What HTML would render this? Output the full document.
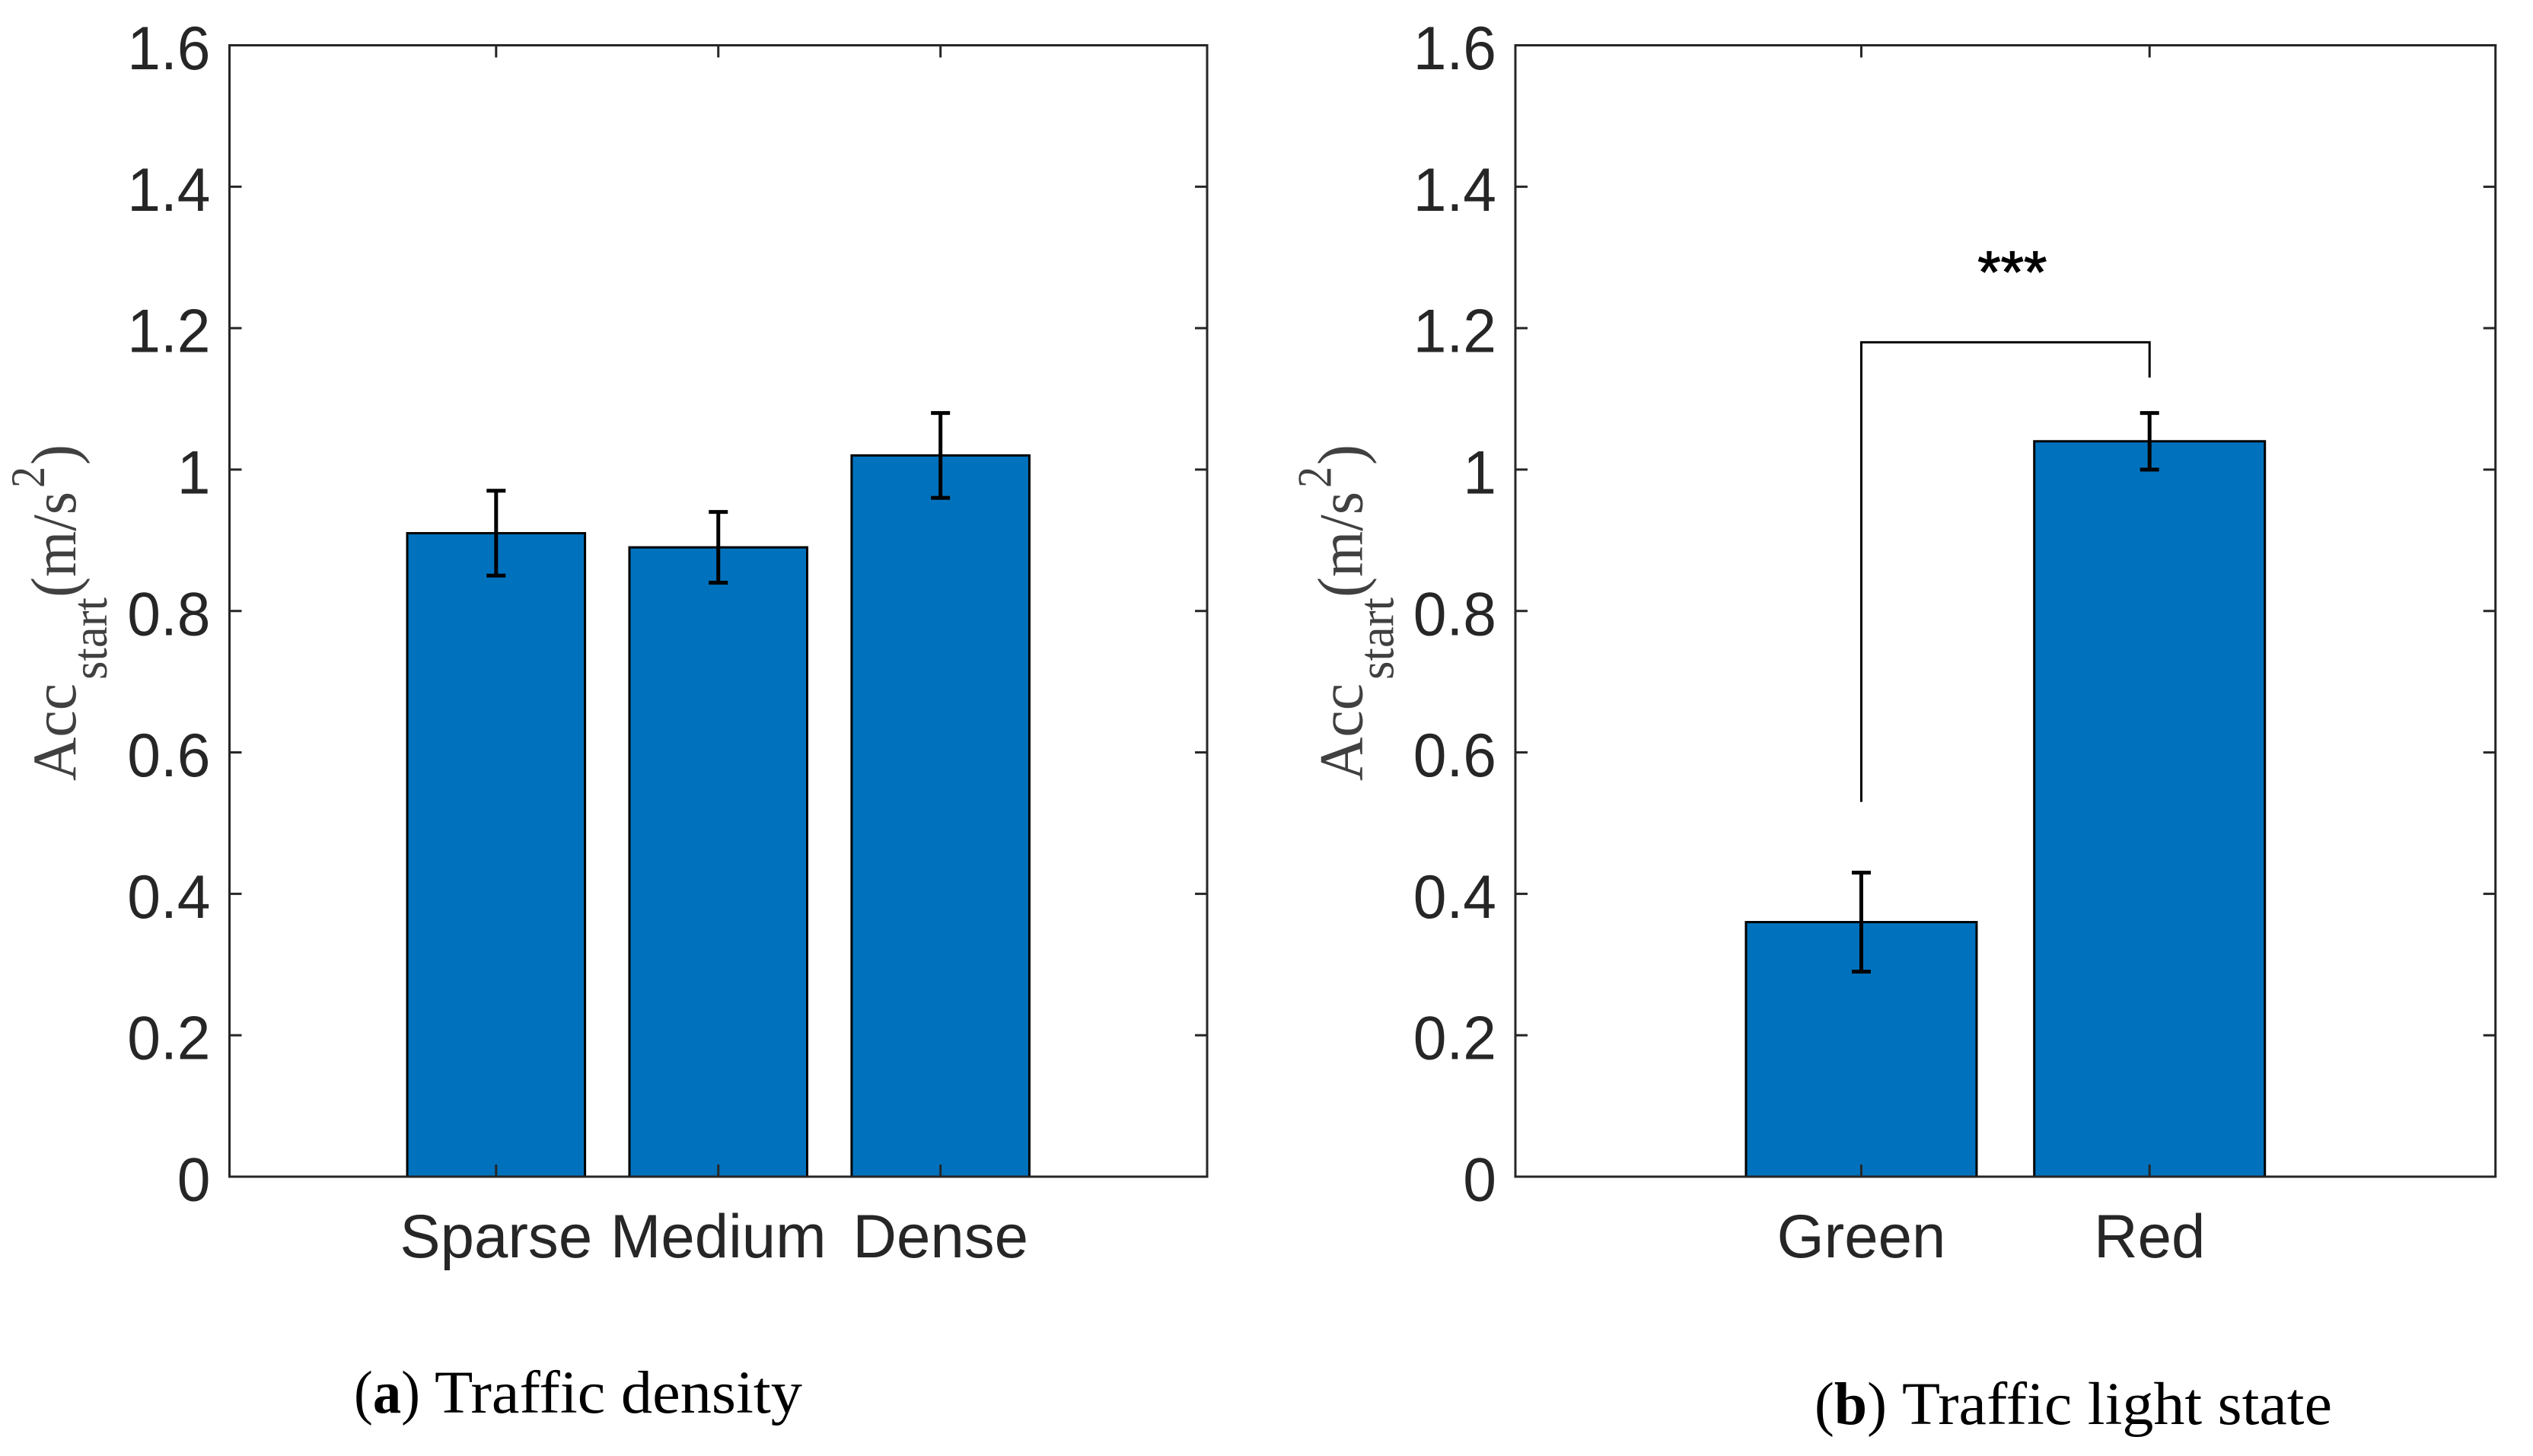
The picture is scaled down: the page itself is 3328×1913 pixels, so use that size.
<!DOCTYPE html>
<html lang="en">
<head>
<meta charset="utf-8">
<title>Acc start by traffic density and traffic light state</title>
<style>
html,body{margin:0;padding:0;background:#fff;width:3328px;height:1913px;overflow:hidden}
svg{display:block}
.tick-label{font-family:"Liberation Sans",Arial,sans-serif;font-size:81px;fill:#262626}
.y-title{font-family:"Liberation Serif","Times New Roman",serif;fill:#404040}
.caption{font-family:"Liberation Serif","Times New Roman",serif;font-size:79px;fill:#000}
</style>
</head>
<body>
<svg id="figure" xmlns="http://www.w3.org/2000/svg" width="3328" height="1913" viewBox="0 0 3328 1913">
  <rect x="0" y="0" width="3328" height="1913" fill="#fff"/>
  <g id="panel-a"></g>
  <g id="panel-b"></g>

  <g transform="translate(99,1026) rotate(-90)">
    <text class="y-title" x="0" y="0" font-size="82" textLength="128" lengthAdjust="spacingAndGlyphs">Acc</text>
    <text class="y-title" x="133" y="41" font-size="66" textLength="108" lengthAdjust="spacingAndGlyphs">start</text>
    <text class="y-title" x="241" y="1" font-size="86" textLength="27" lengthAdjust="spacingAndGlyphs">(</text>
    <text class="y-title" x="268" y="0" font-size="82" textLength="112" lengthAdjust="spacingAndGlyphs">m/s</text>
    <text class="y-title" x="385" y="-41" font-size="64" textLength="28" lengthAdjust="spacingAndGlyphs">2</text>
    <text class="y-title" x="415" y="1" font-size="86" textLength="27" lengthAdjust="spacingAndGlyphs">)</text>
  </g>
  <g transform="translate(1789.5,1026) rotate(-90)">
    <text class="y-title" x="0" y="0" font-size="82" textLength="128" lengthAdjust="spacingAndGlyphs">Acc</text>
    <text class="y-title" x="133" y="41" font-size="66" textLength="108" lengthAdjust="spacingAndGlyphs">start</text>
    <text class="y-title" x="241" y="1" font-size="86" textLength="27" lengthAdjust="spacingAndGlyphs">(</text>
    <text class="y-title" x="268" y="0" font-size="82" textLength="112" lengthAdjust="spacingAndGlyphs">m/s</text>
    <text class="y-title" x="385" y="-41" font-size="64" textLength="28" lengthAdjust="spacingAndGlyphs">2</text>
    <text class="y-title" x="415" y="1" font-size="86" textLength="27" lengthAdjust="spacingAndGlyphs">)</text>
  </g>

  <g>
    <text class="caption" x="465" y="1856" textLength="87" lengthAdjust="spacingAndGlyphs">(<tspan font-weight="bold">a</tspan>)</text>
    <text class="caption" x="571" y="1856" textLength="483" lengthAdjust="spacingAndGlyphs">Traffic density</text>
  </g>
  <g>
    <text class="caption" x="2384" y="1871" textLength="95" lengthAdjust="spacingAndGlyphs">(<tspan font-weight="bold">b</tspan>)</text>
    <text class="caption" x="2499" y="1871" textLength="565" lengthAdjust="spacingAndGlyphs">Traffic light state</text>
  </g>
</svg>
<script>
var yTickValues = [0, 0.2, 0.4, 0.6, 0.8, 1, 1.2, 1.4, 1.6];
var yTickLabels = ['0', '0.2', '0.4', '0.6', '0.8', '1', '1.2', '1.4', '1.6'];

var densityCategories = ['Sparse', 'Medium', 'Dense'];
var densityValues = [0.91, 0.89, 1.02];
var densityUpper = [0.97, 0.94, 1.08];
var densityLower = [0.85, 0.84, 0.96];

var lightCategories = ['Green', 'Red'];
var lightValues = [0.36, 1.04];
var lightUpper = [0.43, 1.08];
var lightLower = [0.29, 1.00];

var bracketTopValue = 1.18;
var bracketLeftEndValue = 0.53;
var bracketRightEndValue = 1.13;
var significanceLabel = '***';

var SVGNS = 'http://www.w3.org/2000/svg';
var plotTop = 59.5, plotBottom = 1546, yMax = 1.6;
var barWidthUnits = 0.8, xPad = 1.2;

function yScale(v) {
  return plotBottom - (v / yMax) * (plotBottom - plotTop);
}
function makeXScale(left, right, n) {
  var lo = 1 - xPad, hi = n + xPad;
  return function (v) { return left + (v - lo) / (hi - lo) * (right - left); };
}
function line(parent, x1, y1, x2, y2, color, width) {
  var el = document.createElementNS(SVGNS, 'line');
  el.setAttribute('x1', x1);
  el.setAttribute('y1', y1);
  el.setAttribute('x2', x2);
  el.setAttribute('y2', y2);
  el.setAttribute('stroke', color);
  el.setAttribute('stroke-width', width);
  parent.appendChild(el);
  return el;
}
function label(parent, x, y, anchor, str, squeeze) {
  var el = document.createElementNS(SVGNS, 'text');
  el.setAttribute('class', 'tick-label');
  el.setAttribute('x', x);
  el.setAttribute('y', y);
  el.setAttribute('text-anchor', anchor);
  el.textContent = str;
  parent.appendChild(el);
  var natural = el.getComputedTextLength();
  el.setAttribute('textLength', natural * squeeze);
  el.setAttribute('lengthAdjust', 'spacingAndGlyphs');
  return el;
}

function drawPanel(rootId, left, right, categories, values, upper, lower) {
  var root = document.getElementById(rootId);
  var x = makeXScale(left, right, categories.length);
  var unit = x(2) - x(1);
  var axisColor = '#262626';

  categories.forEach(function (name, i) {
    var cx = x(i + 1);
    var w = unit * barWidthUnits;
    var bar = document.createElementNS(SVGNS, 'rect');
    
    
    bar.setAttribute('x', cx - w / 2);
    bar.setAttribute('y', yScale(values[i]));
    bar.setAttribute('width', w);
    bar.setAttribute('height', plotBottom - yScale(values[i]));
    bar.setAttribute('fill', '#0072BD');
    bar.setAttribute('stroke', '#000');
    bar.setAttribute('stroke-width', '3');
    root.appendChild(bar);
  });

  var box = document.createElementNS(SVGNS, 'g');
  
  
  root.appendChild(box);
  line(box, left - 1.5, plotTop, right + 1.5, plotTop, axisColor, 3);
  line(box, left - 1.5, plotBottom, right + 1.5, plotBottom, axisColor, 3);
  line(box, left, plotTop, left, plotBottom, axisColor, 3);
  line(box, right, plotTop, right, plotBottom, axisColor, 3);

  yTickValues.forEach(function (v, i) {
    var g = document.createElementNS(SVGNS, 'g');
    
    
    root.appendChild(g);
    var py = yScale(v);
    line(g, left, py, left + 16, py, axisColor, 3);
    line(g, right, py, right - 16, py, axisColor, 3);
    label(g, left - 25, py + 31.5, 'end', yTickLabels[i], 0.97);
  });

  categories.forEach(function (name, i) {
    var g = document.createElementNS(SVGNS, 'g');
    
    
    root.appendChild(g);
    var px = x(i + 1);
    line(g, px, plotTop, px, plotTop + 16, axisColor, 3);
    line(g, px, plotBottom, px, plotBottom - 16, axisColor, 3);
    label(g, px, 1652, 'middle', name, 0.985);
  });

  categories.forEach(function (name, i) {
    var g = document.createElementNS(SVGNS, 'g');
    
    
    root.appendChild(g);
    var px = x(i + 1);
    line(g, px, yScale(upper[i]), px, yScale(lower[i]), '#000', 5);
    line(g, px - 12.5, yScale(upper[i]), px + 12.5, yScale(upper[i]), '#000', 5);
    line(g, px - 12.5, yScale(lower[i]), px + 12.5, yScale(lower[i]), '#000', 5);
  });

  return x;
}

drawPanel('panel-a', 301.5, 1586, densityCategories, densityValues, densityUpper, densityLower);
var lightX = drawPanel('panel-b', 1991, 3278.7, lightCategories, lightValues, lightUpper, lightLower);

var panelB = document.getElementById('panel-b');
var bracket = document.createElementNS(SVGNS, 'polyline');


bracket.setAttribute('points',
  lightX(1) + ',' + yScale(bracketLeftEndValue) + ' ' +
  lightX(1) + ',' + yScale(bracketTopValue) + ' ' +
  lightX(2) + ',' + yScale(bracketTopValue) + ' ' +
  lightX(2) + ',' + yScale(bracketRightEndValue));
bracket.setAttribute('fill', 'none');
bracket.setAttribute('stroke', '#000');
bracket.setAttribute('stroke-width', '3');
panelB.appendChild(bracket);

var stars = document.createElementNS(SVGNS, 'text');


stars.setAttribute('x', (lightX(1) + lightX(2)) / 2 + 9);
stars.setAttribute('y', 384);
stars.setAttribute('text-anchor', 'middle');
stars.setAttribute('font-family', '"Liberation Sans", Arial, sans-serif');
stars.setAttribute('font-size', '78');
stars.setAttribute('fill', '#000');
stars.setAttribute('stroke', '#000');
stars.setAttribute('stroke-width', '1.2');
stars.textContent = significanceLabel;
panelB.appendChild(stars);
</script>
</body>
</html>
